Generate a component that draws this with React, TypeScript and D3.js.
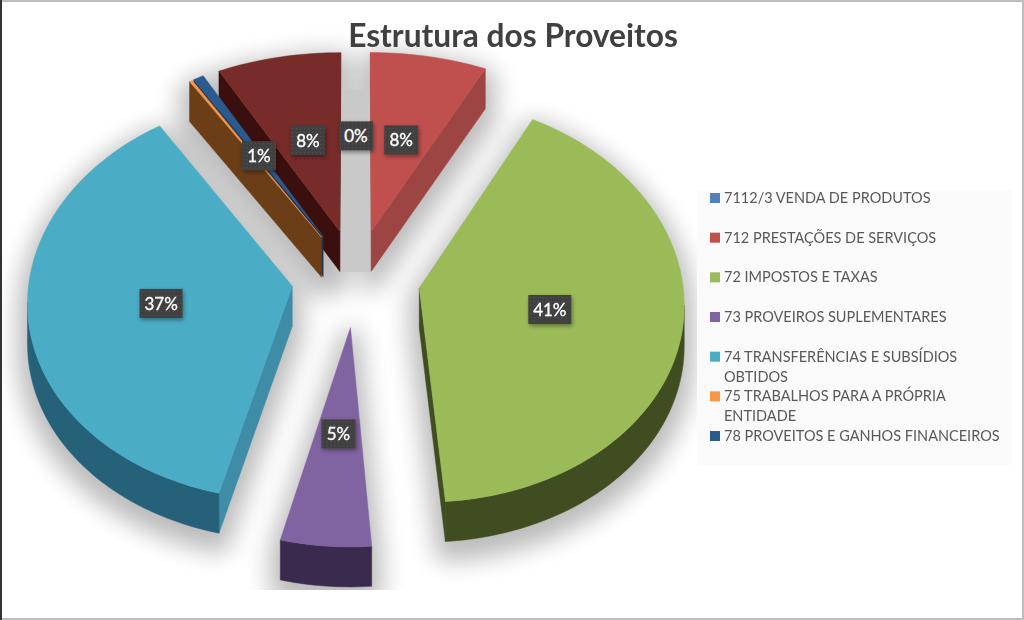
import * as d3 from 'd3'

const title = 'Estrutura dos Proveitos'
const legendLines = [
  ['7112/3 VENDA DE PRODUTOS'],
  ['712 PRESTAÇÕES DE SERVIÇOS'],
  ['72 IMPOSTOS E TAXAS'],
  ['73 PROVEIROS SUPLEMENTARES'],
  ['74 TRANSFERÊNCIAS E SUBSÍDIOS', 'OBTIDOS'],
  ['75 TRABALHOS PARA A PRÓPRIA', 'ENTIDADE'],
  ['78 PROVEITOS E GANHOS FINANCEIROS'],
]
// the last slice has no entry in the legend of the original
const values = [0, 7.8, 41, 5.1, 36.9, 0.2, 0.7, 8.3]
const hiddenLabels = [5]

const topColors = ['#4f81bd', '#c0504d', '#9bbb59', '#8064a2', '#4bacc6', '#f79646', '#2a5a8e', '#772c2a']
const wallColors = ['#2c4a6e', '#8a3836', '#3f4d20', '#3a2a4d', '#25627a', '#6b3e18', '#1c3350', '#3b0f0e']
const sideColors = ['#2c4a6e', '#9d4543', '#3f4d20', '#3a2a4d', '#3f8ca7', '#6b3e18', '#1c3350', '#3b0f0e']

const W = 1024
const H = 620
const explode = 0.245
const depth = 40

// flat pie coordinates to the screen, with a little perspective towards the viewer
const sx = d3.scaleLinear().domain([-1, 1]).range([356 - 263, 356 + 263])
const sy = d3.scaleLinear().domain([-1, 1]).range([278 - 200, 278 + 200])
const project = (X: number, Y: number): [number, number] => [
  sx(X / (1 - 0.07 * Y)),
  // the far rim is flatter than the perspective alone gives
  sy(Y / (1 - 0.06 * Y)) + Math.max(0, -Y - 1.1) * 36,
]

const pie = d3.pie<number>().sort(null).value((d) => d)
const lineGen = d3.line()
const legendY = d3.scaleLinear().domain([0, 6]).range([198, 436])

type Pt = [number, number]
const down = (p: Pt): Pt => [p[0], p[1] + depth]
const quad = (pts: Pt[]) => lineGen([...pts, ...pts.slice().reverse().map(down)]) + 'Z'

const slices = pie(values).map((a, i) => {
  const mid = (a.startAngle + a.endAngle) / 2
  const ax = Math.sin(mid) * explode
  const ay = -Math.cos(mid) * explode
  const n = Math.max(2, Math.ceil((a.endAngle - a.startAngle) * 40))
  const rim: Pt[] = d3.range(n + 1).map((j) => {
    const t = a.startAngle + ((a.endAngle - a.startAngle) * j) / n
    return project(ax + Math.sin(t), ay - Math.cos(t))
  })
  const apex = project(ax, ay)
  const label = project(ax + Math.sin(mid) * 0.5, ay - Math.cos(mid) * 0.5)

  // only the edges that run right to left (clockwise) face the viewer
  const faces: { d: string; fill: string }[] = []
  if (rim[0][0] < apex[0]) faces.push({ d: quad([apex, rim[0]]), fill: sideColors[i] })
  let run: Pt[] = []
  const flush = () => {
    if (run.length > 1) faces.push({ d: quad(run), fill: wallColors[i] })
    run = []
  }
  rim.slice(1).forEach((p, j) => {
    if (p[0] < rim[j][0]) {
      if (!run.length) run.push(rim[j])
      run.push(p)
    } else flush()
  })
  flush()
  if (apex[0] < rim[n][0]) faces.push({ d: quad([rim[n], apex]), fill: sideColors[i] })

  const top = lineGen([apex, ...rim]) + 'Z'
  return { i, value: a.value, ay, apex, label, faces, top, visible: a.value > 0 }
})
const painted = slices.filter((s) => s.visible).sort((p, q) => p.ay - q.ay)
const bandX = [project(-0.058, 0)[0], project(0.058, 0)[0]]
const bandTop = project(0, -1.0)[1]
const bandBottom = project(0, -0.03)[1]

const labelFont = 'Lato, "Open Sans", sans-serif'

export default function App() {
  return (
    <svg width={W} height={H} style={{ position: 'absolute', left: 0, top: 0, background: '#fff' }}>
      <defs>
        <filter id="blur" filterUnits="userSpaceOnUse" x={0} y={0} width={W} height={H}>
          <feGaussianBlur stdDeviation="12" />
        </filter>
        <filter id="boxShadow" x="-30%" y="-30%" width="160%" height="160%">
          <feDropShadow dx="1" dy="2" stdDeviation="2" floodColor="#000" floodOpacity="0.4" />
        </filter>
        <pattern id="dots" width="4" height="4" patternUnits="userSpaceOnUse">
          <rect width="4" height="4" fill="#404040" />
          <rect width="1" height="1" fill="#555" />
        </pattern>
        <clipPath id="plot">
          <rect x={0} y={0} width={W} height={590} />
        </clipPath>
      </defs>

      <g clipPath="url(#plot)">
        <g filter="url(#blur)" opacity={0.27}>
          {painted.map((s) => (
            <g key={s.i} transform="translate(0,10)" fill="#000" stroke="#000" strokeWidth={20} strokeLinejoin="round">
              <path d={s.top} />
              {s.faces.map((f, k) => (
                <path key={k} d={f.d} />
              ))}
            </g>
          ))}
        </g>
        <rect x={bandX[0]} y={bandTop} width={bandX[1] - bandX[0]} height={bandBottom - bandTop} fill="#c9c9c9" />
      </g>

      {painted.map((s) => (
        <g key={s.i}>
          {s.faces.map((f, k) => (
            <path key={k} d={f.d} fill={f.fill} stroke={f.fill} strokeWidth={0.5} />
          ))}
          <path d={s.top} fill={topColors[s.i]} stroke={topColors[s.i]} strokeWidth={0.5} />
        </g>
      ))}

      {slices
        .filter((s) => !hiddenLabels.includes(s.i))
        .map((s) => {
          const text = `${Math.round(s.value)}%`
          const w = text.length > 2 ? 43 : 34
          return (
            <g key={s.i} transform={`translate(${s.label[0]},${s.label[1]})`}>
              <rect x={-w / 2} y={-14} width={w} height={29} fill="url(#dots)" filter="url(#boxShadow)" />
              <text
                textAnchor="middle"
                y={7}
                fontFamily={labelFont}
                fontSize={17}
                fill="#fff"
                stroke="#fff"
                strokeWidth={0.35}
              >
                {text}
              </text>
            </g>
          )
        })}

      <text x={513} y={47} textAnchor="middle" fontFamily={labelFont} fontWeight={700} fontSize={31.7} fill="#404040">
        {title}
      </text>

      <rect x={697} y={190} width={315} height={275} fill="#fafafa" />
      {legendLines.map((lines, i) => (
        <g key={i} transform={`translate(710,${legendY(i)})`}>
          <rect x={0} y={-5} width={10} height={10} fill={topColors[i]} />
          {lines.map((line, j) => (
            <text key={j} x={14} y={5 + j * 20} fontFamily={labelFont} fontSize={14.5} fill="#595959">
              {line}
            </text>
          ))}
        </g>
      ))}

      <rect x={0} y={0} width={W} height={2} fill="#bdbdbd" />
      <rect x={0} y={618} width={W} height={2} fill="#bdbdbd" />
      <rect x={0} y={0} width={2} height={H} fill="#333" />
      <rect x={1022} y={0} width={2} height={H} fill="#bdbdbd" />
    </svg>
  )
}
